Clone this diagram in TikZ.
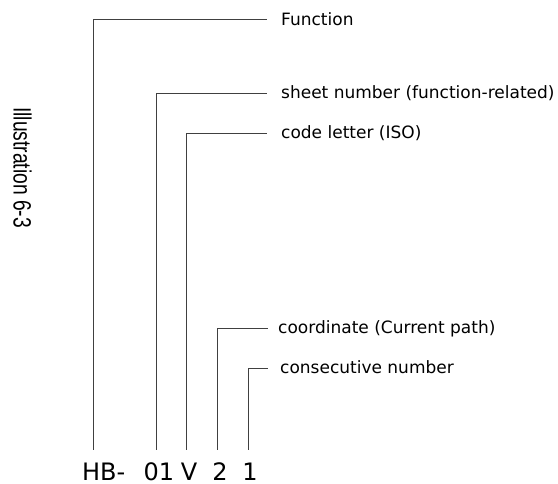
\documentclass[tikz,border=0pt]{standalone}
\usepackage{fontspec}
\setmainfont{DejaVu Sans}
\newfontfamily\arialf{Liberation Sans}
\begin{document}
\begin{tikzpicture}[x=1pt,y=-1pt,
  lbl/.style={anchor=base west,inner sep=0pt,font=\fontsize{17}{19}\selectfont},
  code/.style={anchor=base,inner sep=0pt,font=\fontsize{24}{27}\selectfont},
  lead/.style={draw=black!75,line width=0.6pt}]
\useasboundingbox (0,0) rectangle (558,484);
% code characters
\node[code,anchor=base west] (hb) at (82,480) {HB-};
\node[code] (c01) at (159,480) {01};
\node[code] (cv) at (189,480) {V};
\node[code] (c2) at (220,480) {2};
\node[code] (c1) at (250,480) {1};
% labels
\node[lbl] (lf) at (281,25.5) {Function};
\node[lbl] (ls) at (281,98.5) {sheet number (function-related)};
\node[lbl] (lc) at (281,138.5) {code letter (ISO)};
\node[lbl] (lco) at (278,333.5) {coordinate (Current path)};
\node[lbl] (lcn) at (280,373.5) {consecutive number};
% leader lines
\coordinate (b1) at (93,450); \coordinate (k1) at (93,19); \coordinate (e1) at (267,19);
\coordinate (b2) at (156,450); \coordinate (k2) at (156,93); \coordinate (e2) at (267,93);
\coordinate (b3) at (186,450); \coordinate (k3) at (186,133.5); \coordinate (e3) at (267,133.5);
\coordinate (b4) at (217,450); \coordinate (k4) at (217,328.5); \coordinate (e4) at (268,328.5);
\coordinate (b5) at (248,450); \coordinate (k5) at (248,368); \coordinate (e5) at (268,368);
\draw[lead] (b1) -- (k1) -- (e1);
\draw[lead] (b2) -- (k2) -- (e2);
\draw[lead] (b3) -- (k3) -- (e3);
\draw[lead] (b4) -- (k4) -- (e4);
\draw[lead] (b5) -- (k5) -- (e5);
% side title
\node[rotate=-90,anchor=base west,inner sep=0pt,font=\arialf\fontsize{25}{28}\selectfont] (title) at (13.5,107) {\scalebox{0.77}[1]{Illustration 6-3}};
\end{tikzpicture}
\end{document}
